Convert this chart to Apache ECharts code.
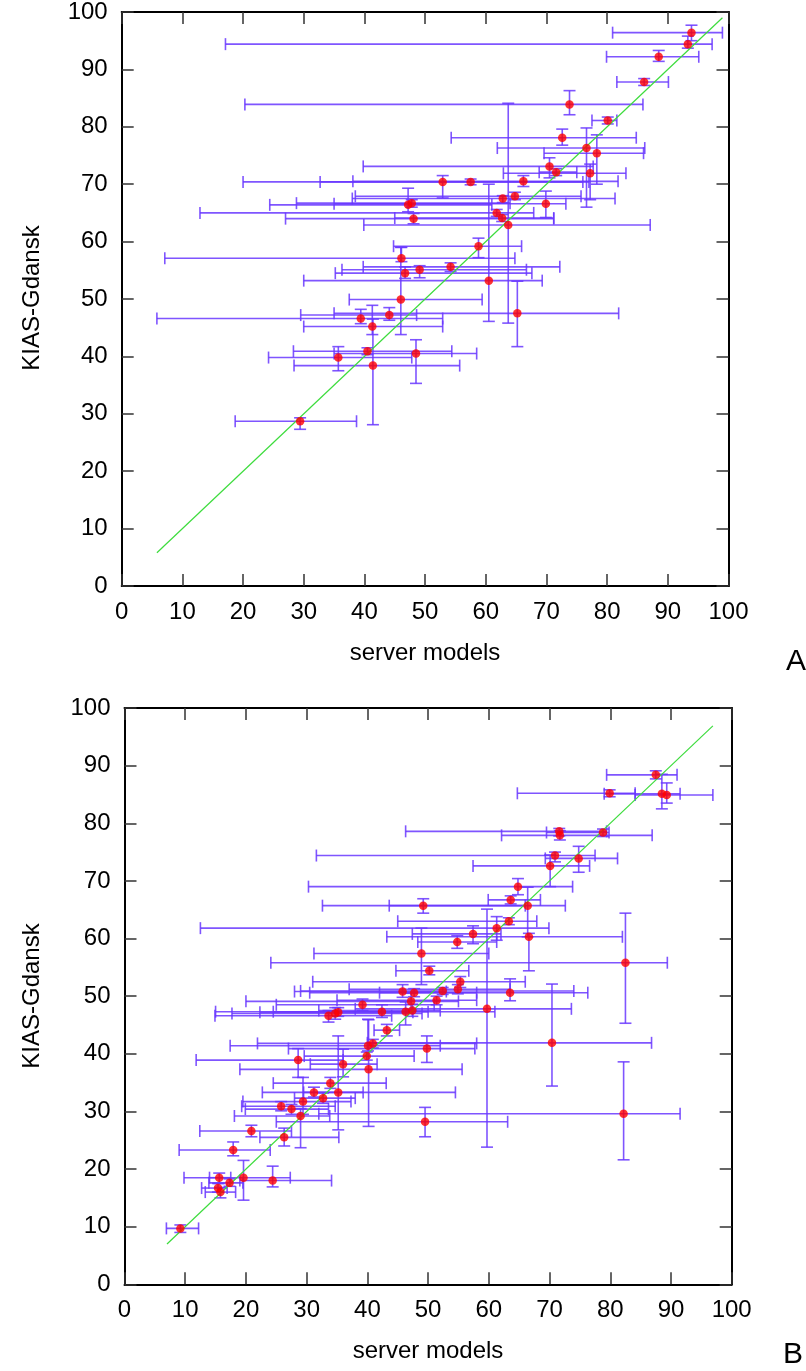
<!DOCTYPE html>
<html>
<head>
<meta charset="utf-8">
<script src="https://cdn.jsdelivr.net/npm/echarts@6/dist/echarts.min.js"></script>
<style>
html,body{margin:0;padding:0;background:#fff;}
#c{width:806px;height:1371px;}
</style>
</head>
<body>
<div id="c"></div>
<script>
// ---------- Panel A data ----------
const aX   = [93.9,93.3,88.5,86.1,73.8,80.1,72.6,76.6,78.3,77.2,70.5,71.6,52.9,57.5,66.2,64.8,62.8,69.9,47.2,47.8,61.8,62.7,48.1,63.7,58.8,46.1,54.2,49.1,46.7,60.5,46.0,65.2,44.1,39.4,41.3,40.5,48.5,35.7,41.4,29.4];
const aY   = [96.4,94.4,92.2,87.8,83.9,81.1,78.1,76.3,75.4,71.9,73.1,72.1,70.4,70.4,70.5,67.9,67.5,66.6,66.4,66.7,65.0,64.1,64.0,62.9,59.2,57.1,55.6,55.1,54.5,53.2,49.9,47.5,47.2,46.6,45.2,40.9,40.5,39.8,38.4,28.7];
const aXlo = [80.9,17.1,79.9,81.6,20.3,77.5,54.3,61.9,69.6,62.9,39.8,68.8,20.0,32.7,38.1,38.5,38.0,35.0,24.4,28.8,12.9,45.0,27.0,39.9,44.8,7.1,39.8,36.3,35.2,30.0,37.5,35.0,29.5,5.8,30.0,28.3,35.0,24.2,28.4,18.7];
const aXhi = [99.0,97.3,95.1,90.1,85.9,81.6,84.8,86.2,86.0,83.1,77.7,75.0,77.0,76.0,81.8,75.7,81.3,73.2,61.0,64.0,67.9,71.2,71.2,87.1,65.9,64.8,72.2,66.7,67.6,69.3,59.4,81.9,48.6,52.9,52.9,54.4,58.5,47.8,55.7,38.7];
const aYlo = [95.0,93.7,91.4,87.2,82.1,80.5,76.8,66.0,70.0,67.3,71.1,71.5,67.6,69.9,69.6,67.3,66.8,64.2,65.2,66.0,64.4,63.5,63.1,45.8,57.2,56.5,54.8,53.7,53.6,46.1,43.8,41.7,46.3,45.7,43.8,40.3,35.3,37.5,28.1,27.3];
const aYhi = [97.7,95.8,93.3,88.4,86.3,81.7,79.6,79.8,78.6,73.5,74.6,72.7,71.5,70.9,71.5,68.6,68.0,68.8,69.3,67.3,65.6,64.7,64.9,84.1,60.6,59.0,56.3,55.8,55.6,70.0,59.0,53.1,48.5,48.2,48.9,41.5,42.9,41.7,46.5,29.3];
const aDiag = [[5.8,5.8],[99,99]];

// ---------- Panel B data ----------
const bX   = [87.5,79.9,88.5,89.3,71.6,71.7,78.8,70.9,74.8,70.1, 64.8,63.6,66.4,49.2,63.3,61.3,57.4,66.6,54.8,48.9, 82.5,50.2,55.3,54.9,52.4,63.5,51.4,59.7,70.4,82.2, 45.8,47.7,47.2,39.2,42.4,46.3,47.4,33.6,34.7,35.2, 43.2,40.1,40.9,49.8,39.9,28.6,36.0,40.2,33.9,31.2, 35.2,32.7,29.4,25.8,27.5,29.0,49.5,20.9,26.3,17.9, 15.6,19.6,24.4,17.3,15.4,15.8,9.2];
const bY   = [88.4,85.2,85.1,84.9,78.6,77.9,78.4,74.4,73.9,72.6, 69.0,66.7,65.7,65.7,63.0,61.8,60.8,60.3,59.4,57.4, 55.8,54.4,52.5,51.2,50.9,50.6,49.3,47.8,41.9,29.6, 50.8,50.6,49.1,48.5,47.3,47.3,47.5,46.6,47.0,47.2, 44.1,41.4,41.8,40.9,39.6,38.9,38.2,37.3,34.9,33.3, 33.3,32.3,31.7,30.9,30.4,29.2,28.2,26.6,25.5,23.3, 18.5,18.5,18.0,17.6,16.7,16.0,9.7];
const bXlo = [79.4,64.7,79.0,84.1,46.3,62.1,69.5,31.6,69.3,57.4, 30.3,59.9,43.6,32.6,45.0,12.5,47.4,43.2,48.3,31.2, 24.1,44.7,31.0,37.0,29.0,42.0,35.0,38.0,40.0,32.0, 28.0,30.5,20.0,25.0,24.5,15.0,32.0,14.9,17.7,22.3, 41.1,17.4,21.9,27.0,29.6,11.8,30.6,19.0,24.5,22.7, 29.5,28.0,19.5,19.3,19.9,18.1,25.0,12.4,22.3,9.0, 14.0,9.8,19.0,13.9,12.7,13.3,6.9];
const bXhi = [91.0,84.1,91.5,96.9,79.4,86.9,79.8,77.5,81.2,76.6, 73.8,68.5,72.6,66.0,67.9,69.9,62.0,82.0,61.3,60.0, 89.4,56.7,66.0,63.5,74.0,76.3,58.0,73.6,86.8,91.5, 53.0,58.0,55.0,51.0,50.0,61.0,52.0,44.0,49.0,47.5, 45.3,52.0,58.0,57.7,47.7,36.0,41.6,55.6,43.1,39.3, 54.5,38.0,37.3,34.7,33.6,33.8,63.1,27.5,35.3,24.0, 17.5,27.3,34.1,19.5,16.9,18.3,12.2];
const bYlo = [87.7,84.6,82.5,83.5,77.8,77.1,77.7,73.3,71.5,69.0, 67.6,66.0,60.3,64.4,62.4,59.7,59.1,54.4,58.3,52.0, 45.3,53.7,51.5,50.4,50.3,49.2,48.5,23.8,34.4,21.6, 49.8,49.9,47.6,47.5,46.3,45.0,46.5,45.5,46.0,46.5, 43.1,40.5,41.0,38.5,38.9,35.9,36.0,27.4,34.0,32.5, 26.8,31.4,29.5,30.1,29.5,23.7,25.6,25.6,24.0,22.3, 17.5,14.6,16.9,17.0,16.0,15.0,9.0];
const bYhi = [89.1,85.8,88.5,87.0,79.1,78.7,79.0,75.0,76.0,74.5, 70.4,67.4,68.9,66.9,63.6,63.8,62.2,60.9,60.5,61.8, 64.4,55.2,53.4,52.0,51.5,53.0,50.0,65.1,52.1,38.6, 52.0,51.3,50.5,49.5,48.5,49.0,48.6,47.5,48.0,48.0, 45.1,46.0,42.5,43.1,40.3,40.9,40.8,45.9,35.9,34.2, 43.1,33.2,35.9,31.7,31.2,30.5,30.7,27.6,27.1,24.7, 19.3,21.5,20.5,18.3,17.5,16.8,10.3];
const bDiag = [[7.0,7.0],[96.9,96.9]];

const tickValues = [0,10,20,30,40,50,60,70,80,90,100];
const xTitle = 'server models';
const yTitle = 'KIAS-Gdansk';

// ---------- build ----------
const FONT = '"Liberation Sans", Arial, Helvetica, sans-serif';
const BAR = 'rgba(105,55,255,0.85)';

function rows(X,Y,XL,XH,YL,YH){ return X.map((v,i)=>[v,Y[i],XL[i],XH[i],YL[i],YH[i]]); }
function pts(X,Y){ return X.map((v,i)=>[v,Y[i]]); }

function renderErr(params, api){
  const x=api.value(0), y=api.value(1);
  const xl=api.value(2), xh=api.value(3), yl=api.value(4), yh=api.value(5);
  const pL=api.coord([xl,y]), pR=api.coord([xh,y]);
  const pB=api.coord([x,yl]), pT=api.coord([x,yh]);
  const cap=6;
  const st={stroke:BAR, lineWidth:1.6};
  const L=(x1,y1,x2,y2)=>({type:'line', shape:{x1,y1,x2,y2}, style:st});
  return {type:'group', children:[
    L(pL[0],pL[1],pR[0],pR[1]),
    L(pL[0],pL[1]-cap,pL[0],pL[1]+cap),
    L(pR[0],pR[1]-cap,pR[0],pR[1]+cap),
    L(pB[0],pB[1],pT[0],pT[1]),
    L(pB[0]-cap,pB[1],pB[0]+cap,pB[1]),
    L(pT[0]-cap,pT[1],pT[0]+cap,pT[1])
  ]};
}

function ax(g,pos,labels){
  return {type:'value', gridIndex:g, position:pos, min:0, max:100, interval:10,
    axisLine:{show:true, onZero:false, lineStyle:{color:'#000', width:2}},
    axisTick:{show:true, inside:true, length:12, lineStyle:{color:'#333', width:1.5}},
    axisLabel:{show:labels, fontSize:24, color:'#000', margin:14, fontFamily:FONT,
      formatter:v=>tickValues.includes(v)?String(v):''},
    splitLine:{show:false}};
}

const grids=[
  {left:121.7, top:10.3, width:606.8, height:575.7},
  {left:124.5, top:708, width:607.2, height:576.3}
];

const series=[];
[[rows(aX,aY,aXlo,aXhi,aYlo,aYhi),pts(aX,aY),aDiag],[rows(bX,bY,bXlo,bXhi,bYlo,bYhi),pts(bX,bY),bDiag]].forEach((d,g)=>{
  series.push({type:'custom', xAxisIndex:2*g, yAxisIndex:2*g, renderItem:renderErr, data:d[0], encode:{x:0,y:1}, z:2, silent:true, clip:false});
  series.push({type:'line', xAxisIndex:2*g, yAxisIndex:2*g, data:d[2], showSymbol:false, lineStyle:{color:'#3ddc3d', width:1.2}, z:3, silent:true});
  series.push({type:'scatter', xAxisIndex:2*g, yAxisIndex:2*g, data:d[1], symbol:'circle', symbolSize:8.5, itemStyle:{color:'#ff0000'}, z:4, silent:true});
});

const txt=(x,y,s,size,rot)=>({type:'text', x:x, y:y, rotation:rot||0, z:10,
  style:{text:s, font:size+'px '+FONT, fill:'#000', textAlign:'center', textVerticalAlign:'middle'}});

const chart=echarts.init(document.getElementById('c'),null,{renderer:'canvas'});
chart.setOption({
  animation:false,
  backgroundColor:'#fff',
  grid:grids,
  xAxis:[ax(0,'bottom',true), ax(0,'top',false), ax(1,'bottom',true), ax(1,'top',false)],
  yAxis:[ax(0,'left',true), ax(0,'right',false), ax(1,'left',true), ax(1,'right',false)],
  series:series,
  graphic:[
    txt(425,653,xTitle,24),
    txt(428,1351,xTitle,24),
    txt(32,298,yTitle,24,Math.PI/2),
    txt(32,996,yTitle,24,Math.PI/2),
    txt(796,662,'A',30),
    txt(793,1355,'B',30)
  ]
});
</script>
</body>
</html>
